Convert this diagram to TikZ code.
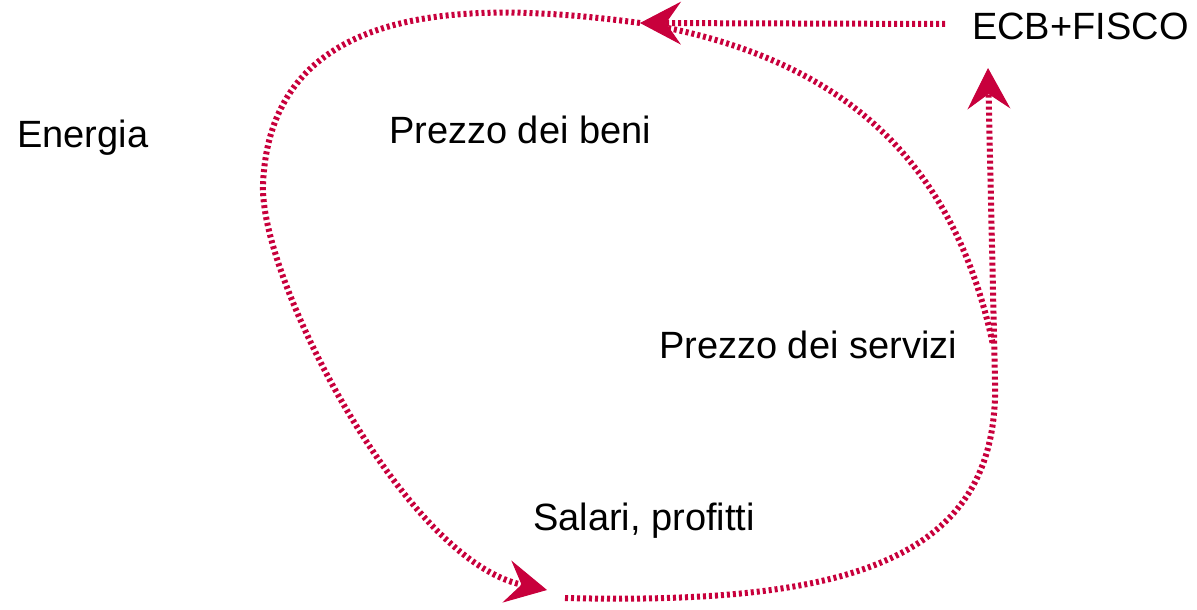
\documentclass[tikz,border=0pt]{standalone}
\usepackage{fontspec}
\setmainfont{Liberation Sans}
\usetikzlibrary{arrows.meta}
\definecolor{loopred}{RGB}{200,0,60}
\begin{document}
\begin{tikzpicture}[x=1pt,y=-1pt,
  lbl/.style={anchor=base west,inner sep=0pt,font=\fontsize{38}{45}\selectfont},
  dotline/.style={draw=loopred,line width=6pt,dash pattern=on 3pt off 3pt},
  tip/.style={-{Stealth[length=41pt,width=43pt,inset=15pt,line width=1pt,fill=loopred]}}]
\useasboundingbox (0,0) rectangle (1197,610);
\node[lbl] (energia) at (17,147) {Energia};
\node[lbl] (ecb) at (972,40) {ECB+FISCO};
\node[lbl] (beni) at (389,143) {Prezzo dei beni};
\node[lbl] (servizi) at (659,358) {Prezzo dei servizi};
\node[lbl] (salari) at (533,530) {Salari, profitti};
\coordinate (topend) at (640,23);
\coordinate (leftmost) at (263,185);
\coordinate (bottip) at (547,590);
\coordinate (botstart) at (565,598);
\coordinate (rightjoin) at (995,380);
\coordinate (uptip) at (988,68);
\coordinate (hstart) at (945,24);
\coordinate (dstart) at (668,28);
\coordinate (dend) at (993,345);
% horizontal arrow from ECB+FISCO
\draw[dotline,tip] (hstart) -- (topend);
% big loop down to wages
\draw[dotline,tip] (topend) .. controls (470,0) and (270,0) .. (leftmost)
  .. controls (260,280) and (405,560) .. (bottip);
% bottom back up to ECB+FISCO
\draw[dotline,tip] (botstart) .. controls (850,605) and (1000,560) .. (rightjoin) -- (uptip);
% curve from top to right side
\draw[dotline] (dstart) .. controls (820,60) and (950,140) .. (dend);
\end{tikzpicture}
\end{document}
